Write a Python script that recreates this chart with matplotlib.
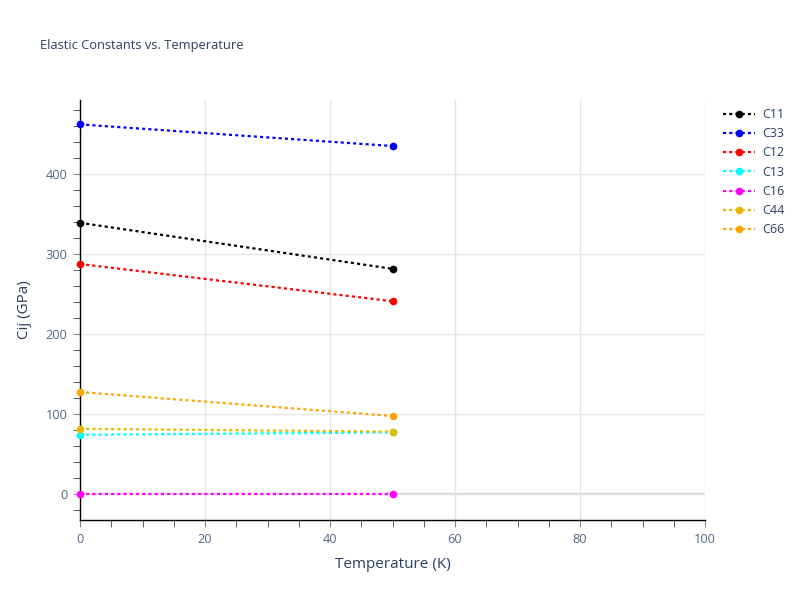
import matplotlib
matplotlib.use('Agg')
import matplotlib.pyplot as plt
from matplotlib.ticker import MultipleLocator

plt.rcParams['font.family'] = ['Open Sans', 'DejaVu Sans']

temps = [0, 50]
names = ['C11', 'C33', 'C12', 'C13', 'C16', 'C44', 'C66']
colors = ['black', 'blue', 'red', 'cyan', 'magenta', '#e6b800', 'orange']
values = {
    'C11': [339.5, 282.0],
    'C33': [462.5, 435.5],
    'C12': [288.0, 241.5],
    'C13': [74.5, 77.5],
    'C16': [0.0, 0.0],
    'C44': [82.0, 78.5],
    'C66': [128.0, 98.0],
}

txt = '#2a3f5f'
fig = plt.figure(figsize=(8, 6), dpi=100)
ax = fig.add_axes([0.1, 0.1333, 0.78125, 0.7])

for n, c in zip(names, colors):
    ax.plot(temps, values[n], color=c, lw=1.6, ls=(0, (1.4, 1.4)),
            marker='o', ms=4.5, label=n, zorder=3, clip_on=False)

ax.set_xlim(0, 100)
ax.set_ylim(-32, 493)
ax.xaxis.set_major_locator(MultipleLocator(20))
ax.xaxis.set_minor_locator(MultipleLocator(5))
ax.yaxis.set_major_locator(MultipleLocator(100))
ax.yaxis.set_minor_locator(MultipleLocator(20))
ax.grid(True, which='major', color='#e5e5e5', lw=1)
ax.axhline(0, color='#d0d0d0', lw=1.5, zorder=1)

for s in ['top', 'right']:
    ax.spines[s].set_visible(False)
for s in ['left', 'bottom']:
    ax.spines[s].set_color('black')
    ax.spines[s].set_linewidth(1)

ax.tick_params(which='major', length=5, color='#888888', labelsize=9.2,
               labelcolor='#506784', pad=4)
ax.tick_params(which='minor', length=5, color='#444444')

ax.set_xlabel('Temperature (K)', fontsize=11, color=txt, labelpad=8)
ax.set_ylabel('Cij (GPa)', fontsize=11, color=txt, labelpad=10)
fig.text(0.05, 0.925, 'Elastic Constants vs. Temperature', fontsize=9.3,
         color=txt, va='center')

leg = ax.legend(loc='upper left', bbox_to_anchor=(1.01, 1.008), frameon=False,
                fontsize=9, handlelength=2.6, labelspacing=0.5,
                handletextpad=0.6)
for t in leg.get_texts():
    t.set_color(txt)

fig.savefig('out.png', dpi=100)
